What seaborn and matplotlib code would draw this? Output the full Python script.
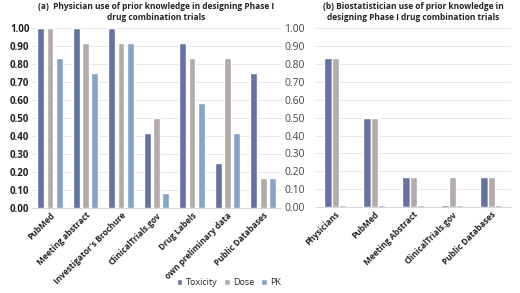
import pandas as pd
import matplotlib.pyplot as plt
import numpy as np
import seaborn as sns

# Panel (a) - physicians
phys_sources = ["PubMed", "Meeting abstract", "Investigator's Brochure", "ClinicalTrials.gov",
                "Drug Labels", "own preliminary data", "Public Databases"]
phys_toxicity = [1.00, 1.00, 1.00, 0.417, 0.917, 0.25, 0.75]
phys_dose = [1.00, 0.917, 0.917, 0.50, 0.833, 0.833, 0.167]
phys_pk = [0.833, 0.75, 0.917, 0.083, 0.583, 0.417, 0.167]

# Panel (b) - biostatisticians
bio_sources = ["Physicians", "PubMed", "Meeting Abstract", "ClinicalTrials.gov", "Public Databases"]
bio_toxicity = [0.833, 0.50, 0.167, 0.01, 0.167]
bio_dose = [0.833, 0.50, 0.167, 0.167, 0.167]
bio_pk = [0.01, 0.01, 0.01, 0.01, 0.01]

measures = ["Toxicity", "Dose", "PK"]
colors = ["#5a6cae", "#b4a9a9", "#7aa3d5"]


def to_long(sources, tox, dose, pk):
    rows = []
    for m, vals in zip(measures, [tox, dose, pk]):
        for s, v in zip(sources, vals):
            rows.append({"source": s, "measure": m, "value": v})
    return pd.DataFrame(rows)


sns.set_style("white")
plt.rcParams['font.family'] = ['Open Sans', 'DejaVu Sans']

fig = plt.figure(figsize=(5.2, 2.93), dpi=100)
ax1 = fig.add_axes([0.062, 0.29, 0.478, 0.614])
ax2 = fig.add_axes([0.607, 0.293, 0.375, 0.611])

df_a = to_long(phys_sources, phys_toxicity, phys_dose, phys_pk)
df_b = to_long(bio_sources, bio_toxicity, bio_dose, bio_pk)

sns.barplot(data=df_a, x="source", y="value", hue="measure", palette=colors,
            width=0.78, gap=0.25, ax=ax1, legend=True)
sns.barplot(data=df_b, x="source", y="value", hue="measure", palette=colors,
            width=0.55, gap=0, ax=ax2, legend=False)

for ax, bold in [(ax1, True), (ax2, False)]:
    ax.set_ylim(0, 1.0)
    ax.set_yticks(np.arange(0, 1.01, 0.1))
    ax.set_yticklabels([f"{v:.2f}" for v in np.arange(0, 1.01, 0.1)],
                       fontsize=7 if bold else 7.5,
                       fontweight="bold" if bold else "normal",
                       color="#222222" if bold else "#444444")
    ax.yaxis.grid(True, color="#e4e4e4", linewidth=0.6)
    ax.set_axisbelow(True)
    for sp in ax.spines.values():
        sp.set_visible(False)
    ax.spines["bottom"].set_visible(True)
    ax.spines["bottom"].set_color("#d0d0d0")
    ax.spines["bottom"].set_linewidth(0.6)
    ax.set_xlabel("")
    ax.set_ylabel("")
    ax.tick_params(axis="both", length=0, pad=2)
    plt.setp(ax.get_xticklabels(), rotation=45, ha="right", rotation_mode="anchor",
             fontsize=6, fontweight="bold", color="#222222")

ax1.set_xlim(-0.5, len(phys_sources) - 0.5)
ax2.set_xlim(-0.5, len(bio_sources) - 0.5)
ax2.tick_params(axis="y", pad=8)

ax1.set_title("(a)  Physician use of prior knowledge in designing Phase I\ndrug combination trials",
              fontsize=6, fontweight="bold", pad=6, color="#222222")
ax2.set_title("(b) Biostatistician use of prior knowledge in\ndesigning Phase I drug combination trials",
              fontsize=6, fontweight="bold", pad=6, color="#222222")

handles, labels = ax1.get_legend_handles_labels()
ax1.get_legend().remove()
fig.legend(handles, labels, loc="center", bbox_to_anchor=(0.44, 0.035), ncol=3,
           frameon=False, fontsize=6.5, handlelength=0.6, handleheight=0.6,
           handletextpad=0.35, columnspacing=0.8)

plt.savefig("out.png", dpi=100)
